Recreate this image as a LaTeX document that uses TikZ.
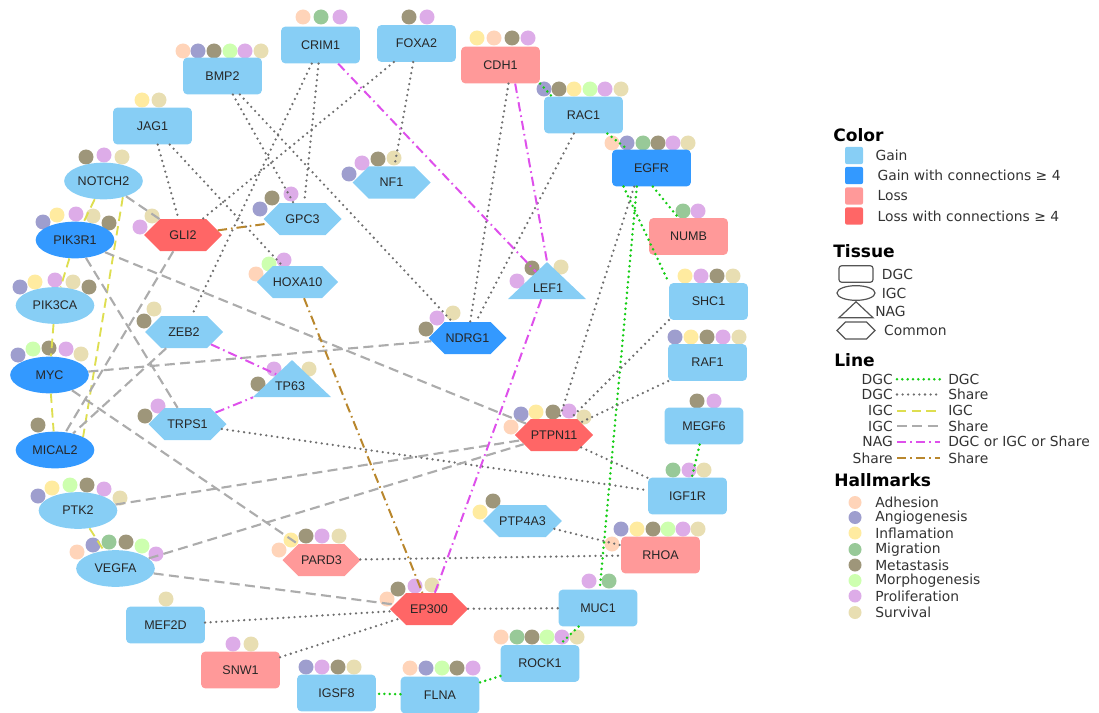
\documentclass[tikz,border=0pt]{standalone}
\usepackage{fontspec}
\setmainfont{Liberation Sans}
\newfontfamily\legendfont{DejaVu Sans}
\usepackage{tikz}
\usetikzlibrary{positioning, shapes.geometric, shapes.symbols}

\definecolor{gain}{RGB}{135,206,245}
\definecolor{gainhub}{RGB}{51,153,255}
\definecolor{loss}{RGB}{255,153,153}
\definecolor{losshub}{RGB}{255,102,102}
\definecolor{adh}{RGB}{255,212,185}
\definecolor{ang}{RGB}{158,158,206}
\definecolor{inf}{RGB}{255,235,160}
\definecolor{mig}{RGB}{152,201,152}
\definecolor{met}{RGB}{158,150,122}
\definecolor{mor}{RGB}{205,255,175}
\definecolor{pro}{RGB}{221,172,232}
\definecolor{sur}{RGB}{232,222,178}
\definecolor{dgcgreen}{RGB}{20,205,20}
\definecolor{sharegray}{RGB}{110,110,110}
\definecolor{igcgray}{RGB}{172,172,172}
\definecolor{igcyellow}{RGB}{222,222,80}
\definecolor{nagpink}{RGB}{222,80,235}
\definecolor{sharebrown}{RGB}{185,135,45}
\definecolor{legline}{RGB}{85,85,85}

\tikzset{
gene/.style={inner sep=0pt, text=black!85, font=\fontsize{9.4}{11}\selectfont}, % look shared by every gene
dgc/.style={gene, rectangle, rounded corners=3pt, minimum width=59pt, minimum height=27.5pt}, % DGC genes are boxes
igc/.style={gene, ellipse, minimum width=59pt, minimum height=27.5pt}, % IGC genes are ellipses
nag/.style={gene, isosceles triangle, isosceles triangle stretches, shape border rotate=90, minimum width=58.5pt, minimum height=27.75pt}, % NAG genes are triangles, label set apart
common/.style={gene, signal, signal to=east and west, minimum width=58.5pt, minimum height=24pt}, % shared genes are hexagons
dgcdgc/.style={dgcgreen, line width=2.1pt, dash pattern=on 0pt off 4pt, line cap=round}, % DGC to DGC
dgcshare/.style={sharegray, line width=1.9pt, dash pattern=on 0pt off 4.2pt, line cap=round}, % DGC to Share
igcigc/.style={igcyellow, line width=1.4pt, dash pattern=on 7pt off 4pt}, % IGC to IGC
igcshare/.style={igcgray, line width=1.6pt, dash pattern=on 7.5pt off 4pt}, % IGC to Share
nagany/.style={nagpink, line width=1.5pt, dash pattern=on 7pt off 3pt on 1.2pt off 3pt}, % NAG to anything
shareshare/.style={sharebrown, line width=1.5pt, dash pattern=on 7pt off 3pt on 1.2pt off 3pt}, % Share to Share
legtitle/.style={font={\legendfont\bfseries\fontsize{12.8}{14}\selectfont}, inner sep=0pt, anchor=west}, % legend headings
legtext/.style={font={\legendfont\fontsize{10.4}{12}\selectfont}, text=black!80, inner sep=0pt}, % legend entries
swatch/.style={rectangle, rounded corners=1.5pt, minimum width=13.5pt, minimum height=13pt, inner sep=0pt}, % colour boxes
legshape/.style={draw=legline, line width=0.9pt, fill=white, inner sep=0pt}, % tissue symbols
}

\newcommand{\hallmarkdots}[1]{\foreach \hc/\hx/\hy in {#1}{\fill[\hc] (\hx,\hy) circle (7.5);}}

\begin{document}
\begin{tikzpicture}[x=0.75pt, y=-0.75pt]
\useasboundingbox (0,0) rectangle (1099,713);

\hallmarkdots{adh/303/17, mig/321/17, pro/340/17}
\hallmarkdots{met/409/17, pro/427/17}
\hallmarkdots{inf/477/38, adh/494/38, met/512/38, pro/528/38}
\hallmarkdots{adh/183/51, ang/198/51, met/214/51, mor/230/51, pro/245/51, sur/261/51}
\hallmarkdots{ang/544/89, met/559/89, inf/574/89, mor/590/89, pro/605/89, sur/621/89}
\hallmarkdots{inf/142/100, sur/159/100}
\hallmarkdots{adh/612/143, ang/627/143, mig/643/143, met/658/143, pro/673/143, sur/688/143}
\hallmarkdots{met/86/157, pro/104/155, sur/122/157}
\hallmarkdots{ang/349/174, pro/362/163, met/378/159, sur/394/158}
\hallmarkdots{pro/140/227, sur/152/216}
\hallmarkdots{ang/260/209, met/272/198, pro/291/194}
\hallmarkdots{ang/43/222, inf/57/215, pro/76/214, sur/93/216, met/109/223}
\hallmarkdots{mig/683/211, pro/698/211}
\hallmarkdots{adh/256/274, mor/269/264, pro/284/260}
\hallmarkdots{pro/517/281, met/532/268, sur/561/267}
\hallmarkdots{inf/685/276, pro/701/276, met/717/276, sur/733/276}
\hallmarkdots{ang/20/287, inf/35/282, pro/55/280, sur/73/282, met/89/287}
\hallmarkdots{met/144/321, sur/154/309}
\hallmarkdots{met/426/329, pro/437/318, sur/453/313}
\hallmarkdots{ang/675/337, inf/691/337, met/707/337, pro/723/337, sur/739/337}
\hallmarkdots{ang/18/355, mor/33/349, met/49/348, pro/66/349, sur/81/354}
\hallmarkdots{met/258/384, pro/274/369, sur/309/369}
\hallmarkdots{met/145/416, pro/158/406}
\hallmarkdots{adh/511/427, ang/521/414, inf/536/412, met/553/412, pro/569/411, sur/584/417}
\hallmarkdots{met/697/401, pro/714/401}
\hallmarkdots{met/38/425}
\hallmarkdots{mig/673/470, pro/689/470, sur/704/470}
\hallmarkdots{ang/38/496, inf/52/488, mor/70/485, met/87/485, pro/104/489, sur/120/498}
\hallmarkdots{inf/480/512, met/493/501}
\hallmarkdots{adh/612/544, ang/621/529, inf/637/529, met/653/529, mor/668/529, pro/683/529, sur/698/529}
\hallmarkdots{adh/77/552, ang/93/545, mig/109/542, met/126/542, mor/142/546, pro/156/554}
\hallmarkdots{adh/279/550, inf/291/540, met/306/536, pro/322/536, sur/339/536}
\hallmarkdots{adh/387/599, met/398/589, pro/415/586, sur/432/585}
\hallmarkdots{pro/589/581, mig/609/581}
\hallmarkdots{sur/166/599}
\hallmarkdots{adh/501/637, mig/517/637, met/532/637, mor/547/637, pro/562/637, sur/577/637}
\hallmarkdots{pro/233/644, sur/251/644}
\hallmarkdots{ang/306/667, pro/322/667, met/338/667, sur/354/667}
\hallmarkdots{adh/410/668, ang/426/668, mor/442/668, met/457/668, pro/473/668}

\node[dgc, fill=gain] (crim1) at (320.5,45) {CRIM1};
\node[dgc, fill=gain] (foxa2) at (416.5,43.5) {FOXA2};
\node[dgc, fill=loss] (cdh1) at (500.5,65) {CDH1};
\node[dgc, fill=gain] (bmp2) at (222.5,76) {BMP2};
\node[dgc, fill=gain] (rac1) at (583.5,115) {RAC1};
\node[dgc, fill=gain] (jag1) at (152.5,126) {JAG1};
\node[dgc, fill=gainhub] (egfr) at (651.5,168) {EGFR};
\node[igc, fill=gain] (notch2) at (103.5,181) {NOTCH2};
\node[common, fill=gain] (nf1) at (391.5,182.5) {NF1};
\node[common, fill=losshub] (gli2) at (183,235) {GLI2};
\node[common, fill=gain] (gpc3) at (302.5,219) {GPC3};
\node[igc, fill=gainhub] (pik3r1) at (75,240) {PIK3R1};
\node[dgc, fill=loss] (numb) at (688.5,236.5) {NUMB};
\node[common, fill=gain] (hoxa10) at (297.5,282) {HOXA10};
\node[nag, fill=gain] (lef1) at (547,283.5) {};
\node[gene] (lef1txt) at (548,288) {LEF1};
\node[dgc, fill=gain] (shc1) at (708.5,301.5) {SHC1};
\node[igc, fill=gain] (pik3ca) at (55,305.5) {PIK3CA};
\node[common, fill=gain] (zeb2) at (184,332) {ZEB2};
\node[common, fill=gainhub] (ndrg1) at (467.5,338) {NDRG1};
\node[dgc, fill=gain] (raf1) at (707.5,362.5) {RAF1};
\node[igc, fill=gainhub] (myc) at (49.5,375) {MYC};
\node[nag, fill=gain] (tp63) at (292,381.5) {};
\node[gene] (tp63txt) at (290,386) {TP63};
\node[common, fill=gain] (trps1) at (187.5,424) {TRPS1};
\node[common, fill=losshub] (ptpn11) at (554,435) {PTPN11};
\node[dgc, fill=gain] (megf6) at (704,426) {MEGF6};
\node[igc, fill=gainhub] (mical2) at (55,450) {MICAL2};
\node[dgc, fill=gain] (igf1r) at (687.5,496) {IGF1R};
\node[igc, fill=gain] (ptk2) at (78,510.5) {PTK2};
\node[common, fill=gain] (ptp4a3) at (522.5,521) {PTP4A3};
\node[dgc, fill=loss] (rhoa) at (660.5,555) {RHOA};
\node[igc, fill=gain] (vegfa) at (115.5,568.5) {VEGFA};
\node[common, fill=loss] (pard3) at (321.5,560) {PARD3};
\node[common, fill=losshub] (ep300) at (429,609) {EP300};
\node[dgc, fill=gain] (muc1) at (598,608) {MUC1};
\node[dgc, fill=gain] (mef2d) at (165.5,625) {MEF2D};
\node[dgc, fill=gain] (rock1) at (540,663.5) {ROCK1};
\node[dgc, fill=loss] (snw1) at (240.5,670) {SNW1};
\node[dgc, fill=gain] (igsf8) at (336.5,693) {IGSF8};
\node[dgc, fill=gain] (flna) at (440,695) {FLNA};

\draw
(cdh1.south east) edge[dgcdgc] ([xshift=6pt]rac1.north west)
(rac1) edge[dgcdgc] (egfr)
([xshift=1pt]egfr.south) edge[dgcdgc] ([xshift=-7.5pt]numb.north)
([xshift=-21pt]egfr.south) edge[dgcdgc] (shc1.north west)
([xshift=-11pt]egfr.south) edge[dgcdgc] (muc1)
(megf6) edge[dgcdgc] (igf1r)
(muc1) edge[dgcdgc] (rock1)
(rock1) edge[dgcdgc] (flna)
(flna) edge[dgcdgc] (igsf8);

\draw
(crim1) edge[dgcshare] (gpc3)
(crim1) edge[dgcshare] (zeb2)
(foxa2) edge[dgcshare] (gli2)
(foxa2) edge[dgcshare] (nf1)
(bmp2) edge[dgcshare] (gpc3)
(bmp2) edge[dgcshare] (ndrg1)
(jag1) edge[dgcshare] (gli2)
(jag1) edge[dgcshare] (hoxa10)
([xshift=6pt]cdh1.south) edge[dgcshare] (ndrg1)
(rac1) edge[dgcshare] (ndrg1)
([xshift=-13pt]egfr.south) edge[dgcshare] (ptpn11)
(shc1.south west) edge[dgcshare] (ptpn11)
(raf1) edge[dgcshare] (ptpn11)
(ptpn11) edge[dgcshare] (igf1r)
(trps1) edge[dgcshare] (igf1r)
(ptp4a3) edge[dgcshare] (rhoa)
(pard3) edge[dgcshare] (rhoa)
(ep300) edge[dgcshare] (muc1)
(mef2d) edge[dgcshare] (ep300)
(snw1) edge[dgcshare] (ep300);

\draw
(notch2) edge[igcigc] (pik3r1)
(notch2.-40) edge[igcigc] (mical2.25)
(pik3r1) edge[igcigc] (pik3ca)
(pik3ca) edge[igcigc] (myc)
(myc) edge[igcigc] (mical2)
(ptk2) edge[igcigc] (vegfa);

\draw
(notch2) edge[igcshare] (gli2)
(pik3r1) edge[igcshare] (ptpn11)
(pik3r1) edge[igcshare] (trps1)
(gli2) edge[igcshare] (mical2)
(zeb2) edge[igcshare] (mical2)
(myc) edge[igcshare] (ndrg1)
(myc) edge[igcshare] (pard3)
(ptk2) edge[igcshare] (ptpn11)
(vegfa) edge[igcshare] (ptpn11)
(vegfa) edge[igcshare] (ep300);

\draw
(crim1) edge[nagany] (lef1)
([xshift=11pt]cdh1.south) edge[nagany] (lef1.apex)
(lef1) edge[nagany] (ep300)
(zeb2) edge[nagany] (tp63)
(trps1) edge[nagany] (tp63)
(gli2) edge[shareshare] (gpc3)
(hoxa10) edge[shareshare] (ep300);

\node[legtitle] (tcolor) at (833,135) {Color};
\node[swatch, fill=gain] (sw1) at (854,155.5) {};
\node[swatch, fill=gainhub] (sw2) at (854,175.5) {};
\node[swatch, fill=loss] (sw3) at (854,196) {};
\node[swatch, fill=losshub] (sw4) at (854,216) {};
\node[legtext, right=9pt of sw1] (cl1) {Gain};
\node[legtext, right=10.5pt of sw2] (cl2) {Gain with connections ≥ 4};
\node[legtext, right=10.5pt of sw3] (cl3) {Loss};
\node[legtext, right=10.5pt of sw4] (cl4) {Loss with connections ≥ 4};

\node[legtitle] (ttissue) at (833,251) {Tissue};
\node[legshape, rectangle, rounded corners=2pt, minimum width=25.5pt, minimum height=12.4pt] (ts1) at (856,274) {};
\node[legshape, ellipse, minimum width=28.5pt, minimum height=11pt] (ts2) at (856,293) {};
\node[legshape, isosceles triangle, isosceles triangle stretches, shape border rotate=90, minimum width=25.5pt, minimum height=12pt] (ts3) at (856,311) {};
\node[legshape, signal, signal to=east and west, minimum width=28.5pt, minimum height=12.75pt] (ts4) at (856,330.5) {};
\node[legtext, right=6pt of ts1] (tl1) {DGC};
\node[legtext, right=4.5pt of ts2] (tl2) {IGC};
\node[legtext, right=6pt of ts3.east] (tl3) {NAG};
\node[legtext, right=6pt of ts4] (tl4) {Common};

\node[legtitle] (tline) at (834,360) {Line};
\node[legtext, anchor=east] (la1) at (893,379.3) {DGC};
\node[legtext, anchor=west] (lb1) at (948,379.3) {DGC};
\node[legtext, anchor=east] (la2) at (893,394.5) {DGC};
\node[legtext, anchor=west] (lb2) at (948,394.5) {Share};
\node[legtext, anchor=east] (la3) at (893,410.7) {IGC};
\node[legtext, anchor=west] (lb3) at (948,410.7) {IGC};
\node[legtext, anchor=east] (la4) at (893,426) {IGC};
\node[legtext, anchor=west] (lb4) at (948,426) {Share};
\node[legtext, anchor=east] (la5) at (893,441.5) {NAG};
\node[legtext, anchor=west] (lb5) at (948,441.5) {DGC or IGC or Share};
\node[legtext, anchor=east] (la6) at (893,458) {Share};
\node[legtext, anchor=west] (lb6) at (948,458) {Share};
\draw[dgcdgc, shorten <=3pt, shorten >=6pt] (la1) -- (lb1);
\draw[dgcshare, shorten <=3pt, shorten >=6pt] (la2) -- (lb2);
\draw[igcigc, shorten <=3pt, shorten >=6pt] (la3) -- (lb3);
\draw[igcshare, shorten <=3pt, shorten >=6pt] (la4) -- (lb4);
\draw[nagany, shorten <=3pt, shorten >=6pt] (la5) -- (lb5);
\draw[shareshare, shorten <=3pt, shorten >=6pt] (la6) -- (lb6);

\node[legtitle] (thall) at (834,480) {Hallmarks};
\foreach \i/\hc/\y/\t in {1/adh/502.5/Adhesion, 2/ang/517.5/Angiogenesis, 3/inf/533/Inflamation, 4/mig/549.5/Migration, 5/met/565/Metastasis, 6/mor/580.5/Morphogenesis, 7/pro/596/Proliferation, 8/sur/612.5/Survival}{
\fill[\hc] (855,\y) circle (6.5);
\node[legtext, anchor=west] (hm\i) at (875,\y) {\t};
}
\end{tikzpicture}
\end{document}
